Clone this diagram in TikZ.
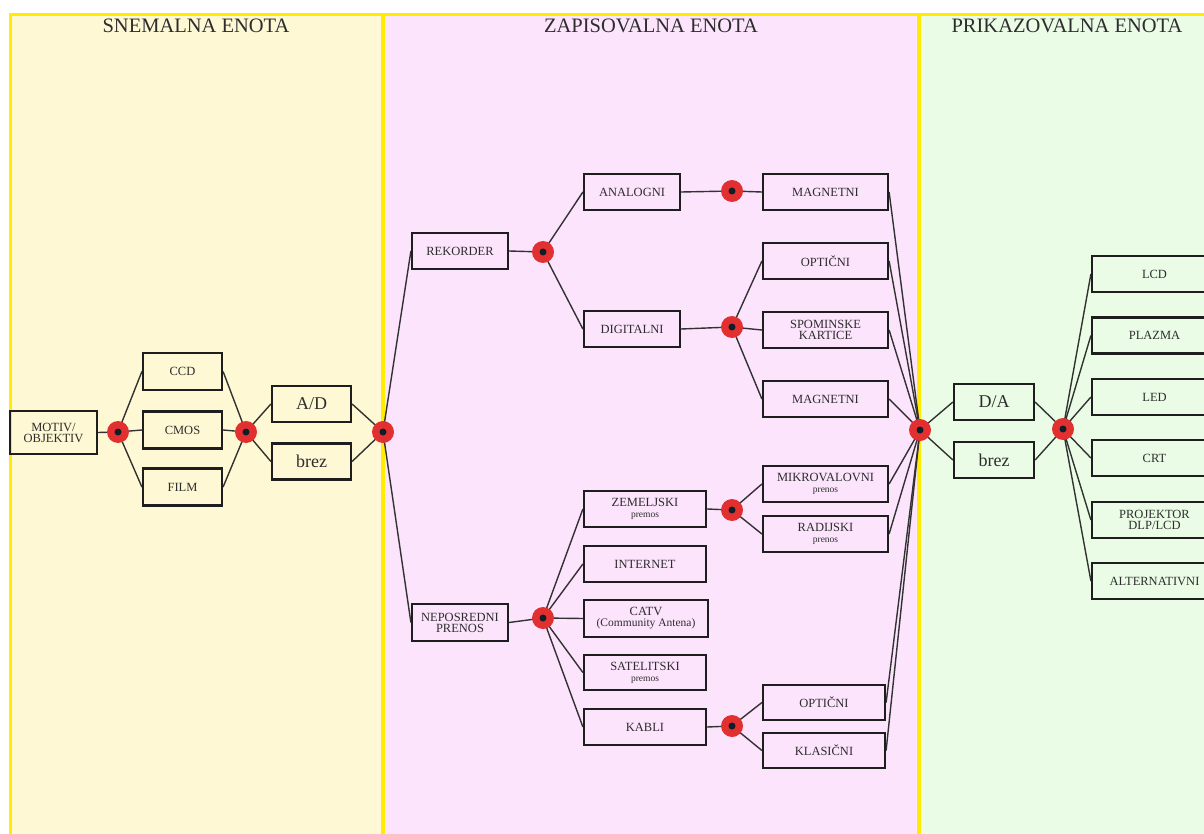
\documentclass[tikz,border=0pt]{standalone}
\usepackage{fontspec}
\setmainfont{Liberation Serif}
\pgfdeclarelayer{bg}
\pgfdeclarelayer{edges}
\pgfsetlayers{bg,edges,main}
\definecolor{panelY}{RGB}{254,248,212}
\definecolor{panelP}{RGB}{252,228,252}
\definecolor{panelG}{RGB}{234,252,230}
\definecolor{yb}{RGB}{255,236,0}
\definecolor{boxline}{RGB}{30,30,30}
\definecolor{linec}{RGB}{50,50,50}
\definecolor{txt}{RGB}{45,45,45}
\definecolor{dotred}{RGB}{226,48,48}
\definecolor{dotcore}{RGB}{15,30,40}
\begin{document}
\begin{tikzpicture}[x=1pt,y=-1pt,
  box/.style={draw=boxline, line width=2.2pt, inner sep=0pt, align=center,
    font=\fontsize{12.5}{11}\selectfont, text=txt},
  sbox/.style={box, minimum width=79pt, minimum height=37pt},
  mbox/.style={box, minimum width=96pt, minimum height=36pt},
  wbox/.style={box, minimum width=122pt, minimum height=36pt},
  xbox/.style={box, minimum width=125pt, minimum height=36pt},
  big/.style={font=\fontsize{18}{18}\selectfont},
  head/.style={font=\fontsize{20.5}{20.5}\selectfont, text=txt, inner sep=0pt},
  dot/.style={circle, fill=dotred, minimum size=22pt, inner sep=0pt,
    path picture={\fill[dotcore] (path picture bounding box.center) circle (3.5pt);}},
  link/.style={draw=linec, line width=1.4pt}]
\newcommand{\subtxt}[1]{{\fontsize{9.5}{9}\selectfont #1}}
\useasboundingbox (0,0) rectangle (1204,834);
\clip (0,0) rectangle (1204,834);
\begin{pgfonlayer}{bg}
  \fill[panelY] (10,15) rectangle (383,840);
  \fill[panelP] (383,15) rectangle (919,840);
  \fill[panelG] (919,15) rectangle (1210,840);
  \draw[yb, line width=3pt] (10,840) -- (10,15) -- (1210,15);
  \draw[yb, line width=3.5pt] (383,15) -- (383,840);
  \draw[yb, line width=3.5pt] (919,15) -- (919,840);
\end{pgfonlayer}

% headers
\node[head] (h1) at (196,26) {SNEMALNA ENOTA};
\node[head] (h2) at (651,26) {ZAPISOVALNA ENOTA};
\node[head] (h3) at (1067,26) {PRIKAZOVALNA ENOTA};

% left panel
\node[box, minimum width=87pt, minimum height=43pt] (mo) at (53.5,432.5) {MOTIV/\\OBJEKTIV};
\node[dot] (d1) at (118,432) {};
\node[sbox] (ccd) at (182.5,371.5) {CCD};
\node[sbox] (cmos) at (182.5,430) {CMOS};
\node[sbox] (film) at (182.5,487) {FILM};
\node[dot] (d2) at (246,432) {};
\node[sbox, big, minimum height=36pt] (ad) at (311.5,404) {A/D};
\node[sbox, big, minimum height=36pt] (bz1) at (311.5,461.5) {brez};
\node[dot] (d3) at (383,432) {};

% middle panel
\node[mbox] (rek) at (460,251) {REKORDER};
\node[dot] (d4) at (543,252) {};
\node[mbox] (ana) at (632,192) {ANALOGNI};
\node[mbox] (dig) at (632,329) {DIGITALNI};
\node[dot] (d5) at (732,191) {};
\node[dot] (d6) at (732,327) {};
\node[xbox] (mag1) at (825.5,192) {MAGNETNI};
\node[xbox] (opt1) at (825.5,261) {OPTIČNI};
\node[xbox] (spo) at (825.5,330) {SPOMINSKE\\KARTICE};
\node[xbox] (mag2) at (825.5,399) {MAGNETNI};
\node[dot] (d7) at (920,430) {};

\node[mbox, minimum height=37pt] (nep) at (460,622.5) {NEPOSREDNI\\PRENOS};
\node[dot] (d8) at (543,618) {};
\node[wbox] (zem) at (645,509) {ZEMELJSKI\\\subtxt{premos}};
\node[wbox] (int) at (645,564) {INTERNET};
\node[wbox, minimum width=124pt, minimum height=37pt] (catv) at (646,618.5) {CATV\\{\fontsize{11.5}{11}\selectfont (Community Antena)}};
\node[wbox, minimum height=35pt] (sat) at (645,672.5) {SATELITSKI\\\subtxt{premos}};
\node[wbox] (kab) at (645,727) {KABLI};
\node[dot] (d9) at (732,510) {};
\node[xbox] (mik) at (825.5,484) {MIKROVALOVNI\\\subtxt{prenos}};
\node[xbox] (rad) at (825.5,534) {RADIJSKI\\\subtxt{prenos}};
\node[dot] (d10) at (732,726) {};
\node[wbox, minimum height=35pt] (opt2) at (824,702.5) {OPTIČNI};
\node[wbox, minimum height=35pt] (kla) at (824,750.5) {KLASIČNI};

% right panel
\node[box, big, minimum width=80pt, minimum height=36pt] (da) at (994,402) {D/A};
\node[box, big, minimum width=80pt, minimum height=36pt] (bz2) at (994,460) {brez};
\node[dot] (d11) at (1063,429) {};
\node[xbox] (lcd) at (1154.5,274) {LCD};
\node[xbox] (pla) at (1154.5,335.5) {PLAZMA};
\node[xbox] (led) at (1154.5,397) {LED};
\node[xbox] (crt) at (1154.5,458) {CRT};
\node[xbox] (pro) at (1154.5,520) {PROJEKTOR\\DLP/LCD};
\node[xbox] (alt) at (1154.5,581) {ALTERNATIVNI};

\begin{pgfonlayer}{edges}
  \path[link] (mo.east) -- (d1.center);
  \foreach \b in {ccd,cmos,film} {
    \path[link] (d1.center) -- (\b.west);
    \path[link] (\b.east) -- (d2.center);
  }
  \foreach \b in {ad,bz1} {
    \path[link] (d2.center) -- (\b.west);
    \path[link] (\b.east) -- (d3.center);
  }
  \foreach \b in {rek,nep} \path[link] (d3.center) -- (\b.west);
  \path[link] (rek.east) -- (d4.center);
  \foreach \b in {ana,dig} \path[link] (d4.center) -- (\b.west);
  \path[link] (ana.east) -- (d5.center) -- (mag1.west);
  \path[link] (dig.east) -- (d6.center);
  \foreach \b in {opt1,spo,mag2} \path[link] (d6.center) -- (\b.west);
  \path[link] (nep.east) -- (d8.center);
  \foreach \b in {zem,int,catv,sat,kab} \path[link] (d8.center) -- (\b.west);
  \path[link] (zem.east) -- (d9.center);
  \foreach \b in {mik,rad} \path[link] (d9.center) -- (\b.west);
  \path[link] (kab.east) -- (d10.center);
  \foreach \b in {opt2,kla} \path[link] (d10.center) -- (\b.west);
  \foreach \b in {mag1,opt1,spo,mag2,mik,rad,opt2,kla} \path[link] (\b.east) -- (d7.center);
  \foreach \b in {da,bz2} {
    \path[link] (d7.center) -- (\b.west);
    \path[link] (\b.east) -- (d11.center);
  }
  \foreach \b in {lcd,pla,led,crt,pro,alt} \path[link] (d11.center) -- (\b.west);
\end{pgfonlayer}
\end{tikzpicture}
\end{document}
